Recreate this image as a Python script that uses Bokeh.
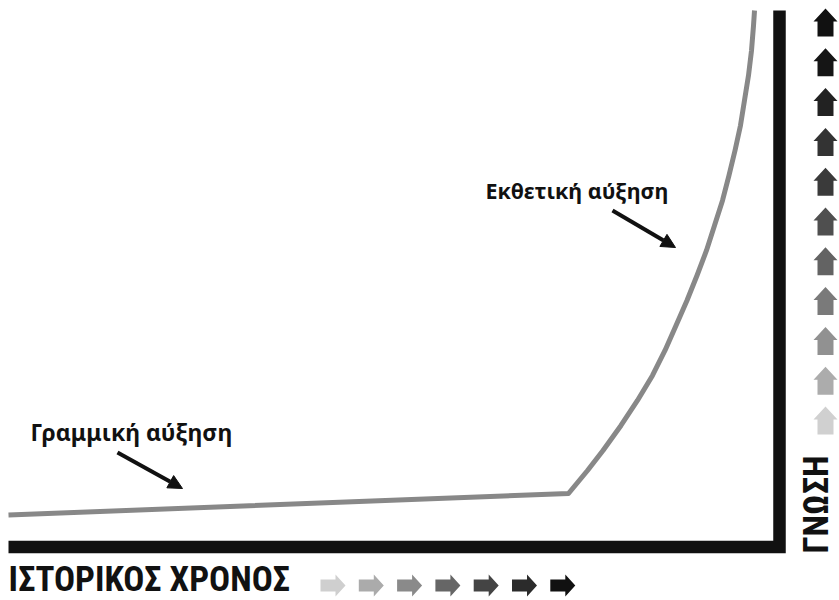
import math
from bokeh.plotting import figure
from bokeh.models import Range1d, Arrow, NormalHead
from bokeh.core.properties import value
from bokeh.embed import file_html
from bokeh.resources import INLINE

# ---- data (time units vs knowledge units) ----
time = [0, 72.63, 75.10, 77.11, 79.44, 81.58, 83.53, 85.15, 86.58, 88.00, 89.30, 90.53,
        91.57, 92.61, 93.45, 94.23, 94.94, 95.46, 95.98, 96.37, 96.63, 96.76]
knowledge = [5.96, 9.97, 14.26, 17.99, 22.65, 27.31, 31.97, 36.63, 41.29, 45.95, 50.61, 55.27,
             59.93, 64.59, 69.25, 73.91, 78.57, 83.23, 87.89, 92.54, 97.20, 100.0]

axis_time = [0, 100, 100]
axis_knowledge = [0, 0, 100]

x_label = "ΙΣΤΟΡΙΚΟΣ ΧΡΟΝΟΣ"
y_label = "ΓΝΩΣΗ"
note_linear = "Γραμμική αύξηση"
note_exp = "Εκθετική αύξηση"

up_arrow_colors = ["#111111", "#151515", "#222222", "#333333", "#3a3a3a", "#4f4f4f",
                   "#636363", "#7a7a7a", "#919191", "#acacac", "#d0d0d0"]
right_arrow_colors = ["#cfcfcf", "#ababab", "#8a8a8a", "#666666", "#444444", "#2b2b2b", "#111111"]

# ---- layout helpers (pixel -> data) ----
W, H = 839, 600
SX, SY = 7.71, 5.365          # px per data unit
X_ORIGIN, Y_ORIGIN = 8, 546.5  # pixel position of time=0 / knowledge=0

def X(px):
    return (px - X_ORIGIN) / SX

def Y(py):
    return (Y_ORIGIN - py) / SY

p = figure(width=W, height=H,
           x_range=Range1d(X(0), X(W)), y_range=Range1d(Y(H), Y(0)),
           x_axis_location=None, y_axis_location=None,
           toolbar_location=None, output_backend="svg",
           min_border=0, outline_line_color=None)
p.grid.grid_line_color = None
p.background_fill_color = "white"
p.border_fill_color = "white"

# axes L-shape
p.line(axis_time, axis_knowledge, line_width=12.5, line_color="#111111",
       line_join="miter", line_cap="butt")

# growth curve
p.line(time, knowledge, line_width=5, line_color="#888888", line_join="round")

# annotations
font_note = value("Noto Sans")
p.text(x=[X(30)], y=[Y(431)], text=[note_linear], text_font=font_note,
       text_font_style="bold", text_font_size="23px", text_color="#111111",
       text_align="left", text_baseline="alphabetic")
p.text(x=[X(485)], y=[Y(190)], text=[note_exp], text_font=font_note,
       text_font_style="bold", text_font_size="21.5px", text_color="#111111",
       text_align="left", text_baseline="alphabetic")

for (xs, ys, xe, ye) in [(117, 452, 182, 488), (612, 210, 675, 247)]:
    p.add_layout(Arrow(end=NormalHead(size=14, fill_color="#111111", line_color="#111111"),
                       x_start=X(xs), y_start=Y(ys), x_end=X(xe), y_end=Y(ye),
                       line_width=4, line_color="#111111"))

# axis labels
font_lab = value("Roboto Condensed, DejaVu Sans Condensed, Liberation Sans Narrow, Roboto")
p.text(x=[X(8)], y=[Y(579)], text=[x_label], text_font=font_lab,
       text_font_style="bold", text_font_size="35px", text_color="#111111",
       text_align="left", text_baseline="alphabetic")
p.text(x=[X(816)], y=[Y(553)], text=[y_label], text_font=font_lab,
       text_font_style="bold", text_font_size="35px", text_color="#111111",
       text_align="left", text_baseline="alphabetic", angle=math.pi / 2)

# decorative up arrows (right column)
uxs, uys = [], []
for i in range(len(up_arrow_colors)):
    cx, cy = 825, 22 + 39.8 * i
    pts = [(cx, cy - 14), (cx + 12, cy - 1), (cx + 8, cy - 1), (cx + 8, cy + 14),
           (cx - 8, cy + 14), (cx - 8, cy - 1), (cx - 12, cy - 1)]
    uxs.append([X(a) for a, b in pts])
    uys.append([Y(b) for a, b in pts])
p.patches(uxs, uys, fill_color=up_arrow_colors, line_color=None)

# decorative right arrows (bottom row)
rxs, rys = [], []
for i in range(len(right_arrow_colors)):
    x0, cy = 320 + 38.3 * i, 585
    pts = [(x0, cy - 6), (x0 + 15, cy - 6), (x0 + 15, cy - 11), (x0 + 25, cy),
           (x0 + 15, cy + 11), (x0 + 15, cy + 6), (x0, cy + 6)]
    rxs.append([X(a) for a, b in pts])
    rys.append([Y(b) for a, b in pts])
p.patches(rxs, rys, fill_color=right_arrow_colors, line_color=None)

open("out.html", "w").write(file_html(p, INLINE))
